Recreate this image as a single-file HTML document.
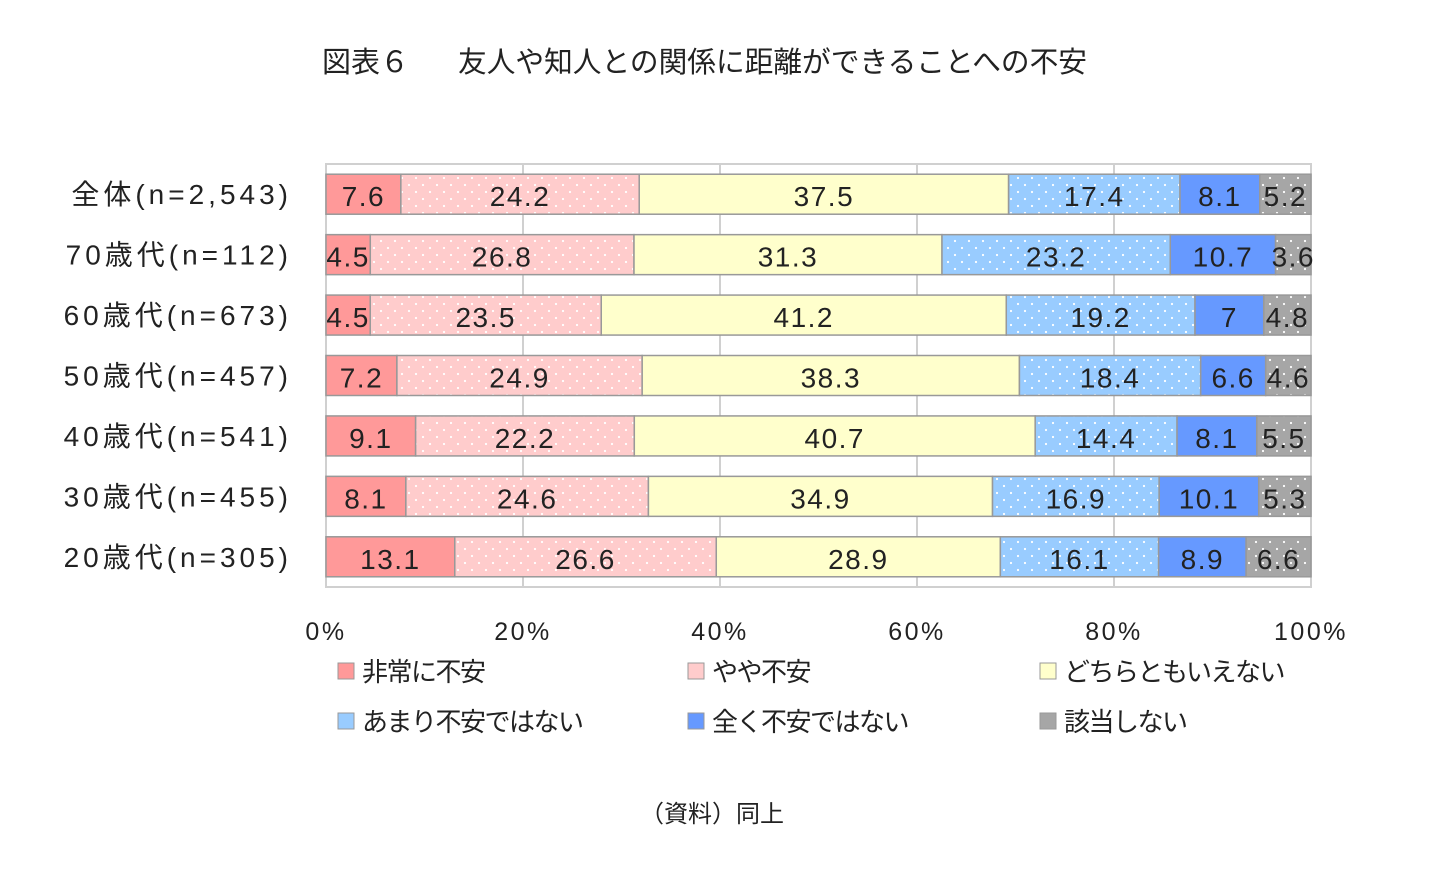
<!DOCTYPE html>
<html><head><meta charset="utf-8"><style>
body{margin:0;background:#fff;}
svg text{font-family:"Liberation Sans","Noto Sans CJK JP",sans-serif;fill:#222;}
</style></head><body>
<svg width="1444" height="872" viewBox="0 0 1444 872">
<defs>
<pattern id="dots" width="14" height="14" patternUnits="userSpaceOnUse"><circle cx="3" cy="3" r="1.1" fill="#fff"/><circle cx="10" cy="10" r="1.1" fill="#fff"/></pattern>
</defs>
<text x="322" y="72" font-size="29">図表６</text>
<text x="458" y="72" font-size="29" textLength="629" lengthAdjust="spacingAndGlyphs">友人や知人との関係に距離ができることへの不安</text>
<g id="plot"></g>
<text x="712" y="822" font-size="24" text-anchor="middle">（資料）同上</text>
</svg>
<script>
const categories=["全体(n=2,543)","70歳代(n=112)","60歳代(n=673)","50歳代(n=457)","40歳代(n=541)","30歳代(n=455)","20歳代(n=305)"];
const seriesNames=["非常に不安","やや不安","どちらともいえない","あまり不安ではない","全く不安ではない","該当しない"];
const s1=[7.6,4.5,4.5,7.2,9.1,8.1,13.1];
const s2=[24.2,26.8,23.5,24.9,22.2,24.6,26.6];
const s3=[37.5,31.3,41.2,38.3,40.7,34.9,28.9];
const s4=[17.4,23.2,19.2,18.4,14.4,16.9,16.1];
const s5=[8.1,10.7,7,6.6,8.1,10.1,8.9];
const s6=[5.2,3.6,4.8,4.6,5.5,5.3,6.6];
const tickLabels=["0%","20%","40%","60%","80%","100%"];
const series=[s1,s2,s3,s4,s5,s6];
const colors=["#FF9999","#FFCCCC","#FFFFCC","#99CCFF","#6699FF","#A6A6A6"];
const dotted=[false,true,false,true,false,true];
const NS="http://www.w3.org/2000/svg";
const g=document.getElementById('plot');
const X0=326,X1=1311,Y0=164,Y1=587;
const x=v=>X0+(X1-X0)*v/100;
const band=(Y1-Y0)/categories.length;
const yc=i=>Y0+band*(i+0.5);
function mk(t,a,p){const e=document.createElementNS(NS,t);for(const k in a)e.setAttribute(k,a[k]);(p||g).appendChild(e);return e;}
const frame=mk('rect',{x:X0,y:Y0,width:X1-X0,height:Y1-Y0,fill:'#fff',stroke:'#d0d0d0','stroke-width':2});


tickLabels.forEach((t,k)=>{
  const v=k*20;
  if(k>0&&k<5){const l=mk('line',{x1:x(v),x2:x(v),y1:Y0,y2:Y1,stroke:'#d0d0d0','stroke-width':2});
  
  }
  const tx=mk('text',{x:x(v),y:640,'font-size':25,'text-anchor':'middle','letter-spacing':'2.5'});
  tx.textContent=t;
  
  
});
categories.forEach((c,i)=>{
  const lb=mk('text',{x:292,y:yc(i)+10,'font-size':28,'text-anchor':'end','letter-spacing':'4'});
  lb.textContent=c;
  
  
  let total=0;series.forEach(s=>total+=s[i]);
  let acc=0;
  series.forEach((s,j)=>{
    const v=s[i];const a=acc/total*100,b=(acc+v)/total*100;acc+=v;
    const r=mk('rect',{x:x(a),y:yc(i)-20,width:x(b)-x(a),height:40,fill:colors[j],stroke:'#999','stroke-width':1.5});
    
    
    if(dotted[j]){const d=mk('rect',{x:x(a)+1,y:yc(i)-19,width:x(b)-x(a)-2,height:38,fill:'url(#dots)'});
      
      }
    const t=mk('text',{x:(x(a)+x(b))/2,y:yc(i)+12,'font-size':28,'text-anchor':'middle','letter-spacing':'1.5'});
    t.textContent=String(v);
    
    
  });
});
const lx=[338,688,1040],ly=[671,721];
seriesNames.forEach((n,j)=>{
  const cx=lx[j%3],cy=ly[Math.floor(j/3)];
  const sq=mk('rect',{x:cx,y:cy-8,width:16,height:16,fill:colors[j],stroke:'#999','stroke-width':1});
  
  
  const t=mk('text',{x:cx+24,y:cy+10,'font-size':26,'letter-spacing':'-1.5'});
  t.textContent=n;
  
  
});
</script>
</body></html>
